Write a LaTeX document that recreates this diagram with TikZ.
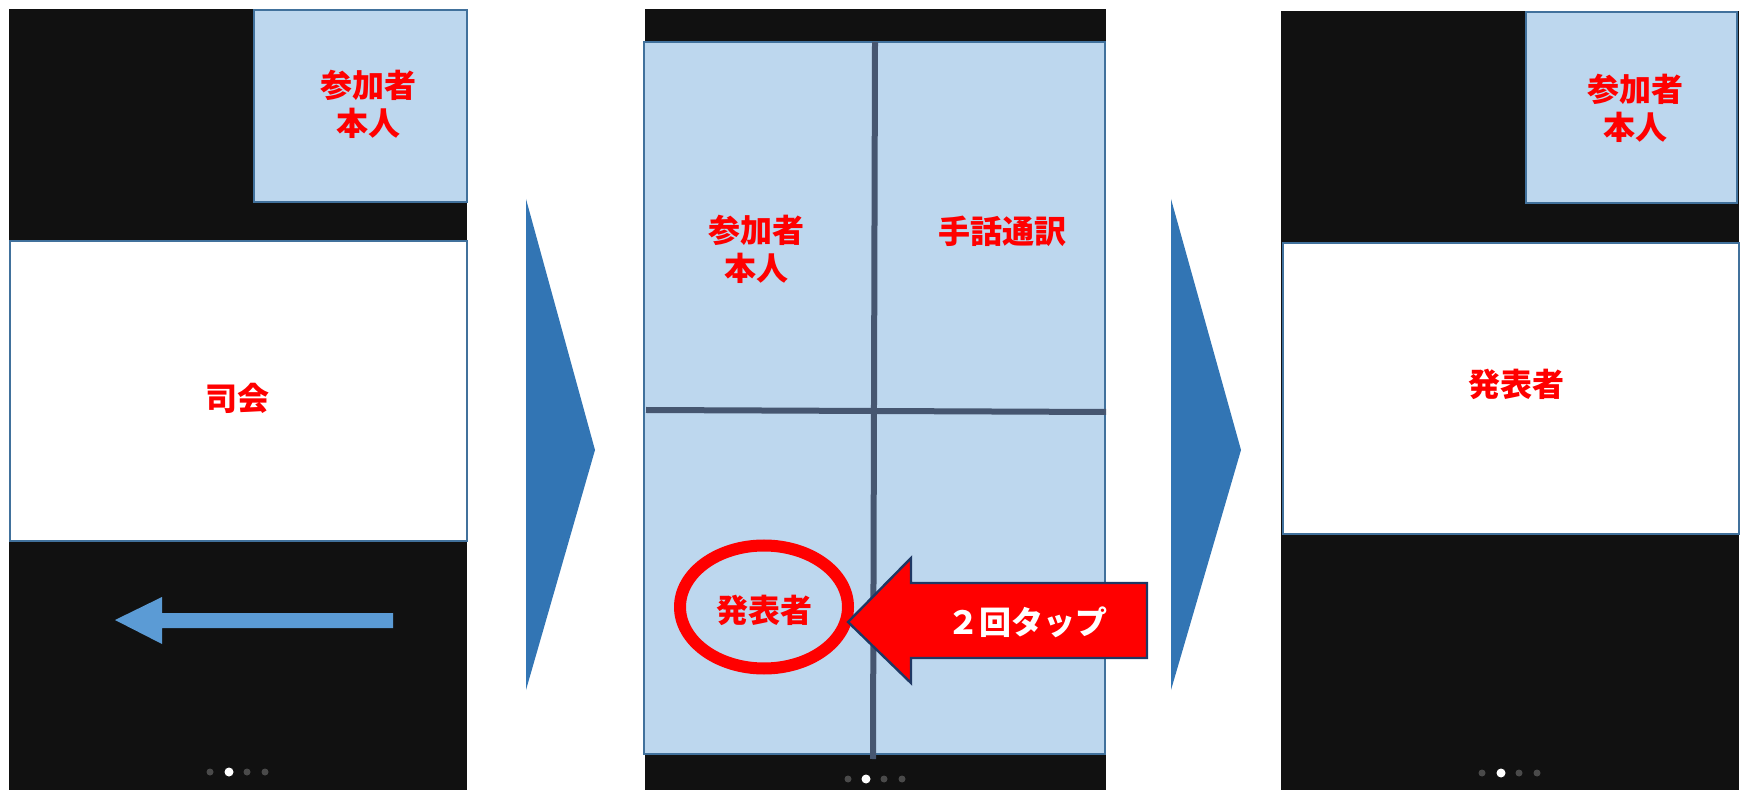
\documentclass[tikz,border=0pt]{standalone}
\usepackage{fontspec}
\newfontfamily\cjk{Noto Sans CJK JP}
\definecolor{scr}{HTML}{111111}
\definecolor{tile}{HTML}{BDD7EE}
\definecolor{tileedge}{HTML}{41719C}
\definecolor{chev}{HTML}{3275B4}
\definecolor{larrow}{HTML}{5B9BD5}
\definecolor{divline}{HTML}{465670}
\definecolor{navy}{HTML}{1F3864}
\definecolor{dotgray}{HTML}{4A4A4A}
\tikzset{
  screen/.style={fill=scr, draw=none},
  tilebox/.style={fill=tile, draw=tileedge, line width=1.3pt},
  whitebox/.style={fill=white, draw=tileedge, line width=1.3pt},
  lbl/.style={font=\cjk\bfseries\fontsize{16pt}{19pt}\selectfont, text=red, align=center, inner sep=0pt},
  chevron/.style={fill=chev, draw=none},
  divider/.style={draw=divline, line width=3pt},
  pdot/.style={circle, fill=dotgray, inner sep=0pt, minimum size=3.5pt},
  adot/.style={circle, fill=white, inner sep=0pt, minimum size=4.5pt},
}
\begin{document}
\begin{tikzpicture}[x=0.5pt,y=-0.5pt]
\useasboundingbox (0,0) rectangle (1750,790);
% ---------- left panel ----------
\fill[screen] (9,9) rectangle (467,790);
\draw[tilebox] (254,10) rectangle (467,202);
\node[lbl] (lself) at (368,104) {参加者\\本人};
\draw[whitebox] (10,241) rectangle (467,541);
\node[lbl] (lhost) at (237,398) {司会};
\fill[larrow] (393,613) -- (162,613) -- (162,597) -- (115,620) -- (162,644) -- (162,628) -- (393,628) -- cycle;
\node[pdot] (ld1) at (210,772) {};
\node[adot] (ld2) at (229,772) {};
\node[pdot] (ld3) at (247,772) {};
\node[pdot] (ld4) at (265,772) {};
% ---------- chevron 1 ----------
\fill[chevron] (526,199) -- (595,450) -- (526,690) -- cycle;
% ---------- middle panel ----------
\fill[screen] (645,9) rectangle (1106,790);
\draw[tilebox] (644,42) rectangle (1105,754);
\draw[divider] (875,42) -- (873,759);
\draw[divider] (646,410) -- (1106,412);
\node[lbl] (mself) at (756,249) {参加者\\本人};
\node[lbl] (msign) at (1002,231) {手話通訳};
\node[lbl] (mpres) at (764,610) {発表者};
\draw[red, line width=6pt] (764,607) ellipse [x radius=84, y radius=61.5];
\draw[fill=red, draw=navy, line width=1.2pt] (848,622) -- (911,558) -- (911,583) -- (1147,583) -- (1147,658) -- (911,658) -- (911,683) -- cycle;
\node[lbl, text=white] (tap) at (1027,622) {２回タップ};
\node[pdot] (md1) at (848,779) {};
\node[adot] (md2) at (866,779) {};
\node[pdot] (md3) at (884,779) {};
\node[pdot] (md4) at (902,779) {};
% ---------- chevron 2 ----------
\fill[chevron] (1171,199) -- (1241,450) -- (1171,690) -- cycle;
% ---------- right panel ----------
\fill[screen] (1281,11) rectangle (1739,790);
\draw[tilebox] (1526,12) rectangle (1737,203);
\node[lbl] (rself) at (1635,108) {参加者\\本人};
\draw[whitebox] (1283,243) rectangle (1739,534);
\node[lbl] (rpres) at (1516,384) {発表者};
\node[pdot] (rd1) at (1482,773) {};
\node[adot] (rd2) at (1501,773) {};
\node[pdot] (rd3) at (1519,773) {};
\node[pdot] (rd4) at (1537,773) {};
\end{tikzpicture}
\end{document}
